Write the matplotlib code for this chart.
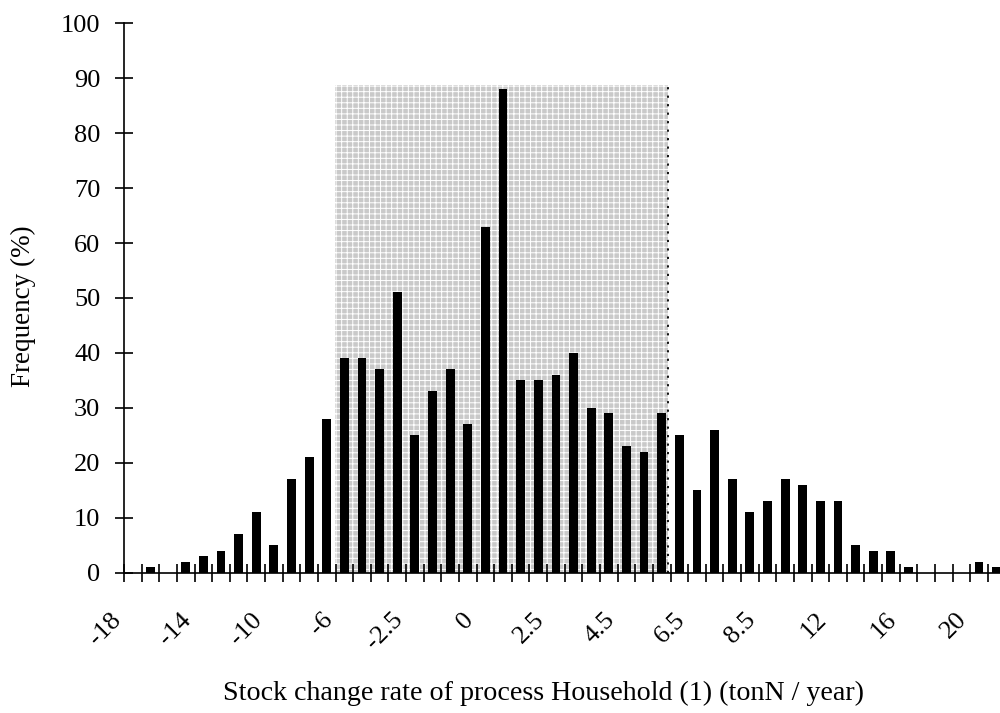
import numpy as np
import matplotlib
matplotlib.use("Agg")
import matplotlib.pyplot as plt
from matplotlib.transforms import ScaledTranslation

# frequency (%) per bin, 50 bins from left to right
frequency = [0, 1, 0, 2, 3, 4, 7, 11, 5, 17,
             21, 28, 39, 39, 37, 51, 25, 33, 37, 27,
             63, 88, 35, 35, 36, 40, 30, 29, 23, 22,
             29, 25, 15, 26, 17, 11, 13, 17, 16, 13,
             13, 5, 4, 4, 1, 0, 0, 0, 2, 1]

# labels shown on every 4th bin
tick_labels = ["-18", "-14", "-10", "-6", "-2.5", "0", "2.5",
               "4.5", "6.5", "8.5", "12", "16", "20"]
label_every = 4

# shaded interval (in bin units) and its height
interval_lo = 11.47
interval_hi = 30.36
interval_top = 88.7

plt.rcParams["font.family"] = ["Liberation Serif", "DejaVu Serif"]
plt.rcParams["hatch.linewidth"] = 0.7

fig = plt.figure(figsize=(10, 7.13), dpi=100)
ax = fig.add_axes([0.124, 0.197, 0.8815, 0.7703])

n = len(frequency)
x = np.arange(n)

ax.axvspan(interval_lo, interval_hi, ymin=0, ymax=interval_top / 100,
           facecolor="#c9c9c9", edgecolor="white", hatch="+++", lw=0, zorder=1)
ax.plot([interval_hi, interval_hi], [0, interval_top], color="black",
        ls=(0, (1.2, 3.5)), lw=1.3, zorder=2)

ax.bar(x, frequency, width=0.5, color="black", zorder=3)

ax.set_xlim(-0.5, n - 0.5)
ax.set_ylim(0, 100)

ax.spines["top"].set_visible(False)
ax.spines["right"].set_visible(False)
ax.spines["left"].set_linewidth(1.2)
ax.spines["bottom"].set_linewidth(1.2)

ax.set_yticks(np.arange(0, 101, 10))
ax.tick_params(axis="y", direction="inout", length=13, width=1.2,
               labelsize=19, pad=10.5)

ax.set_xticks(x[::label_every], tick_labels)
ax.set_xticks(np.arange(-0.5, n, 1), minor=True)
ax.tick_params(axis="x", which="major", length=0, labelsize=19, pad=26)
ax.tick_params(axis="x", which="minor", direction="inout", length=13, width=1.2)
plt.setp(ax.get_xticklabels(), rotation=45, ha="right", va="top")

offset = ScaledTranslation(-0.075, 0, fig.dpi_scale_trans)
for label in ax.xaxis.get_majorticklabels():
    label.set_transform(label.get_transform() + offset)

ax.set_xlabel("Stock change rate of process Household (1) (tonN / year)",
              fontsize=20.2, va="center")
ax.xaxis.set_label_coords(0.476, -0.2194)
ax.set_ylabel("Frequency (%)", fontsize=19.5, va="center")
ax.yaxis.set_label_coords(-0.1146, 0.485)

fig.savefig("out.png", dpi=100)
